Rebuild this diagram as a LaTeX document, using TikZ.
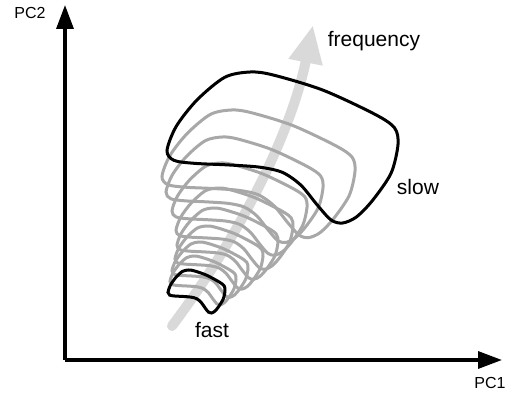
\documentclass[tikz,border=0pt]{standalone}
\usepackage{fontspec}
\setmainfont{Liberation Sans}
\usetikzlibrary{arrows.meta}
\definecolor{bandgray}{RGB}{217,217,217}
\definecolor{loopgray}{RGB}{168,168,168}
\newcommand\drawbean[5]{%
  \begin{scope}[shift={(#2,#3)},xscale=#4,yscale=#5]
    \draw[#1] plot[smooth cycle,tension=0.5] coordinates {
      (0,0.52) (0.03,0.585) (0.12,0.605) (0.26,0.615) (0.40,0.63) (0.50,0.665)
      (0.58,0.75) (0.65,0.88) (0.71,0.98) (0.76,1.0) (0.82,0.96) (0.89,0.85)
      (0.97,0.67) (1.0,0.48) (0.985,0.37) (0.9,0.28) (0.675,0.12) (0.46,0.02)
      (0.36,0.0) (0.25,0.035) (0.13,0.185) (0.04,0.36)};
  \end{scope}}
\tikzset{
  axis/.style={line width=3.3pt,-{Triangle[length=24pt,width=17pt]}},
  band/.style={line width=10pt,bandgray,line cap=round,-{Triangle[length=38pt,width=32pt]}},
  grayloop/.style={line width=3pt,loopgray},
  blackloop/.style={line width=3pt,black},
  biglabel/.style={font=\fontsize{21}{25}\selectfont,anchor=base,inner sep=0pt},
  axlabel/.style={font=\fontsize{16}{19}\selectfont,anchor=base,inner sep=0pt}
}
\begin{document}
\begin{tikzpicture}[x=1pt,y=-1pt]
\useasboundingbox (0,0) rectangle (507,396);
% axes
\coordinate (o) at (65,360);
\coordinate (ytip) at (65,5);
\coordinate (xtip) at (502,360);
\draw[axis] (o) -- (ytip);
\draw[axis] (o) -- (xtip);
\node[axlabel] (pc2) at (30,19) {PC2};
\node[axlabel] (pc1) at (490,388) {PC1};
% frequency band
\coordinate (b1) at (172,326);
\coordinate (b2) at (313,25);
\draw[band] (b1) .. controls (247,226) and (293,125) .. (b2);
% gray loops
\drawbean{grayloop}{162}{110}{193}{127.6}
\drawbean{grayloop}{166}{137}{157}{105.5}
\drawbean{grayloop}{172}{163}{135}{92.2}
\drawbean{grayloop}{176}{188}{117}{81.2}
\drawbean{grayloop}{177}{208}{101}{71.3}
\drawbean{grayloop}{175}{226}{88}{63.1}
\drawbean{grayloop}{172}{242}{76}{55.3}
\drawbean{grayloop}{170}{256}{66}{48.8}
% black loops
\drawbean{blackloop}{167}{72}{231}{151}
\drawbean{blackloop}{168}{270}{57}{43}
% labels
\node[biglabel] (freq) at (374,47) {frequency};
\node[biglabel] (slow) at (418,195) {slow};
\node[biglabel] (fast) at (212,337) {fast};
\end{tikzpicture}
\end{document}
